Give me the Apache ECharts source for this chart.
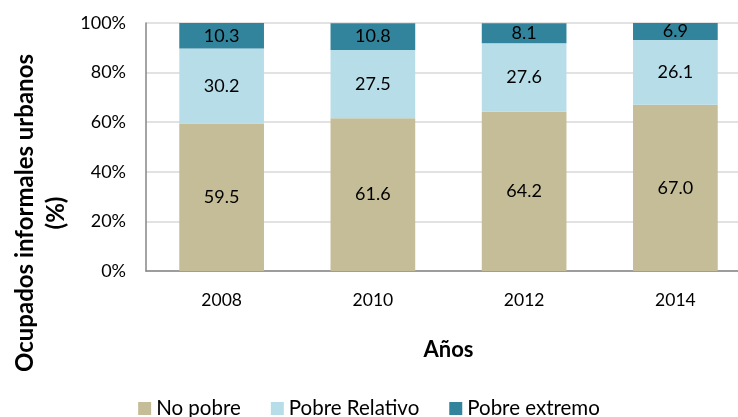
<!DOCTYPE html>
<html><head><meta charset="utf-8">
<script src="https://cdn.jsdelivr.net/npm/echarts@6/dist/echarts.min.js"></script>
<style>html,body{margin:0;padding:0;background:#fff}#c{width:738px;height:417px}</style>
</head><body><div id="c"></div>
<script>
const categories = ['2008', '2010', '2012', '2014'];
const noPobre = [59.5, 61.6, 64.2, 67.0];
const pobreRelativo = [30.2, 27.5, 27.6, 26.1];
const pobreExtremo = [10.3, 10.8, 8.1, 6.9];
const yTicks = [0, 20, 40, 60, 80, 100];

const FONT = 'Lato';
const chart = echarts.init(document.getElementById('c'));
const lbl = {show: true, position: 'inside', color: '#000', fontFamily: FONT, fontSize: 18, formatter: p => p.value.toFixed(1)};
chart.setOption({
  animation: false,
  textStyle: {fontFamily: FONT},
  grid: {left: 146, right: -13, top: 23, bottom: 146, outerBoundsMode: 'none', containLabel: false},
  legend: {
    top: 393, left: 'center', itemWidth: 13, itemHeight: 13, itemGap: 30,
    icon: 'rect',
    textStyle: {fontFamily: FONT, fontSize: 20.5, color: '#000'},
    data: ['No pobre', 'Pobre Relativo', 'Pobre extremo']
  },
  graphic: [{
    type: 'text', x: 41, y: 213, rotation: Math.PI / 2,
    style: {text: 'Ocupados informales urbanos\n(%)', fontFamily: FONT, fontSize: 24, fontWeight: 'bold',
      fill: '#000', align: 'center', verticalAlign: 'middle', lineHeight: 31}
  }],
  xAxis: {
    type: 'category', data: categories,
    name: 'Años', nameLocation: 'middle', nameGap: 68,
    nameTextStyle: {fontFamily: FONT, fontSize: 22, fontWeight: 'bold', color: '#000'},
    axisLine: {lineStyle: {color: '#868686', width: 1.5}},
    axisTick: {show: false},
    axisLabel: {fontFamily: FONT, fontSize: 17.5, color: '#000', margin: 20}
  },
  yAxis: {
    type: 'value', min: 0, max: 100, interval: 20,
    axisLine: {show: true, lineStyle: {color: '#868686', width: 1.5}},
    axisTick: {show: false},
    splitLine: {lineStyle: {color: '#D9D9D9', width: 1.5}},
    axisLabel: {fontFamily: FONT, fontSize: 18, color: '#000', margin: 20,
      formatter: v => yTicks.includes(v) ? v + '%' : ''}
  },
  series: [
    {name: 'No pobre', type: 'bar', stack: 't', data: noPobre, barWidth: '56%', itemStyle: {color: '#C4BD97'}, label: lbl},
    {name: 'Pobre Relativo', type: 'bar', stack: 't', data: pobreRelativo, itemStyle: {color: '#B7DEE8'}, label: lbl},
    {name: 'Pobre extremo', type: 'bar', stack: 't', data: pobreExtremo, itemStyle: {color: '#31849B'}, label: lbl}
  ]
});
</script></body></html>
